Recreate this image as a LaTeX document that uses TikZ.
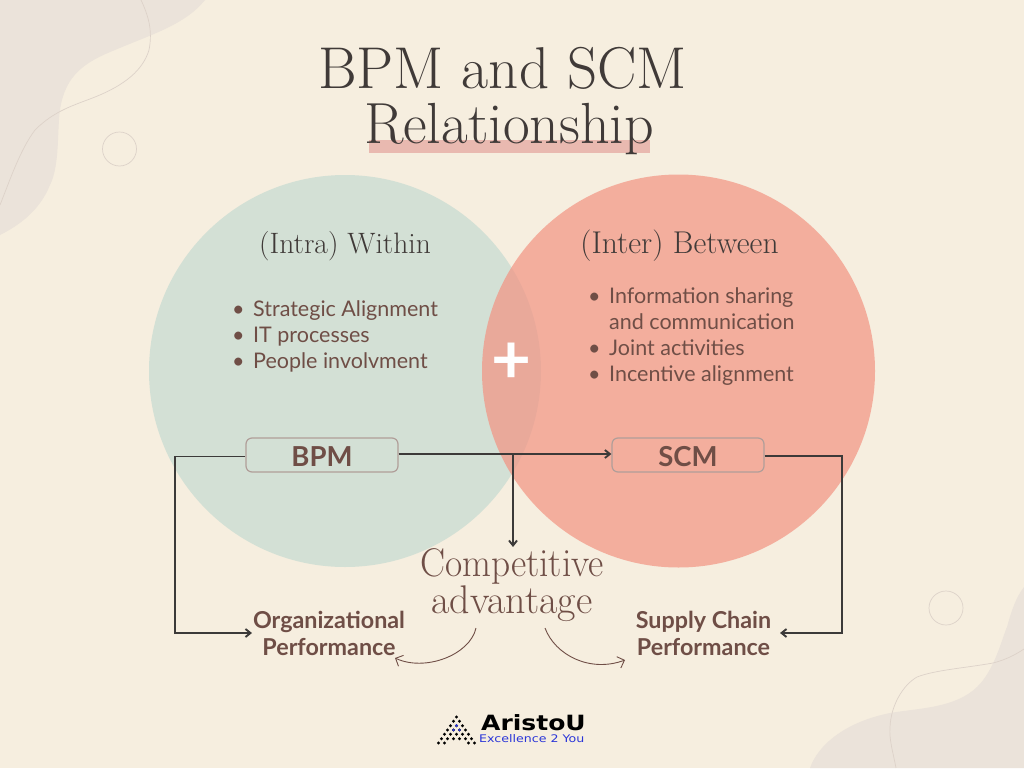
\documentclass[tikz,border=0pt]{standalone}
\usepackage{fontspec}
\setsansfont{Lato}
\newfontfamily\logofont{DejaVu Sans}
\usetikzlibrary{arrows.meta}

\definecolor{paper}{HTML}{F6EEDF}
\definecolor{blobc}{HTML}{EBE3DA}
\definecolor{linec}{HTML}{DDD2C9}
\definecolor{greenc}{HTML}{D3E0D5}
\definecolor{redc}{HTML}{F39382}
\definecolor{markc}{HTML}{E9B9B0}
\definecolor{brownc}{HTML}{6F4E46}
\definecolor{inkc}{HTML}{403A38}
\definecolor{wirec}{HTML}{3C3A39}
\definecolor{bluec}{HTML}{2A35D8}

\newcommand{\listline}[2]{\makebox[21pt][l]{#1}#2}

\tikzset{
  titletext/.style = { text = inkc, inner sep = 0pt, font = \fontsize{#1}{70}\selectfont },
  headtext/.style = { text = inkc, font = \fontsize{#1}{36}\selectfont },
  bodylist/.style = { text = brownc, align = left, anchor = north west, inner sep = 0pt,
    font = \sffamily\fontsize{21.5}{26}\selectfont },
  tagbox/.style = { draw = brownc!55, line width = 1.2pt, rounded corners = 6pt, text = brownc,
    minimum width = 152pt, minimum height = 34pt, inner sep = 0pt,
    font = \sffamily\bfseries\fontsize{27.5}{30}\selectfont },
  goaltext/.style = { text = brownc, align = center, inner sep = 0pt,
    font = \sffamily\bfseries\fontsize{23.3}{27}\selectfont },
  wire/.style = { draw = wirec, line width = 1.9pt, -{Straight Barb[length=5pt,width=8pt]} },
  bendwire/.style = { draw = brownc, line width = .9pt, -{Straight Barb[length=6pt,width=12pt]} },
  hairline/.style = { draw = linec, line width = .7pt }
}

\begin{document}
\begin{tikzpicture}[x = 1pt, y = -1pt]
    \useasboundingbox (0,0) rectangle (1024,768);
    \fill [paper] (0,0) rectangle (1024,768);

    % corner shapes
    \fill [blobc] (0,0) -- (205,0) .. controls (185,25) and (150,35) .. (115,50)
      .. controls (85,62) and (65,75) .. (60,110) .. controls (57,130) and (60,165) .. (50,185)
      .. controls (40,210) and (20,225) .. (0,235) -- cycle;
    \draw [hairline] (141,0) .. controls (148,15) and (153,30) .. (149,50)
      .. controls (143,70) and (125,85) .. (95,97) .. controls (75,105) and (55,110) .. (35,130)
      .. controls (20,150) and (10,180) .. (0,205);
    \draw [hairline] (119.5,149) circle (17);
    \fill [blobc] (1024,768) -- (810,768) .. controls (818,745) and (845,722) .. (890,713)
      .. controls (920,708) and (955,708) .. (977,687) .. controls (995,670) and (1003,635) .. (1007,627)
      .. controls (1011,612) and (1016,597) .. (1024,587) -- cycle;
    \draw [hairline] (896,768) .. controls (893,752) and (889,740) .. (890,727)
      .. controls (891,705) and (903,685) .. (917,677) .. controls (935,670) and (965,668) .. (993,663)
      .. controls (1005,660) and (1015,655) .. (1024,649);
    \draw [hairline] (946,608) circle (17);

    % title
    \fill [markc] (369,140) rectangle (650,153);
    \node [titletext = 59] (title1) at (502.5,68) {BPM and SCM};
    \node [titletext = 58] (title2) at (509,129) {Relationship};

    % the two circles
    \fill [greenc] (345,371) circle (196);
    \fill [redc, fill opacity = .7] (678.5,371) circle (196.5);
    \node [text = white, font = \sffamily\bfseries\fontsize{69}{72}\selectfont, inner sep = 0pt] (plus) at (511.5,363) {+};

    \node [headtext = 29.5] (intra) at (345,246) { (Intra) Within };
    \node [headtext = 31.5] (inter) at (679.5,246) { (Inter) Between };

    \node [bodylist] (intralist) at (232,300) {
      \listline{\textbullet}{Strategic Alignment}\\
      \listline{\textbullet}{IT processes}\\
      \listline{\textbullet}{People involvment} };
    \node [bodylist] (interlist) at (588,287) {
      \listline{\textbullet}{Information sharing}\\
      \listline{}{and communication}\\
      \listline{\textbullet}{Joint activities}\\
      \listline{\textbullet}{Incentive alignment} };

    \node [tagbox] (bpm) at (322,455) { \raisebox{-11.5pt}[0pt][0pt]{BPM} };
    \node [tagbox] (scm) at (688,455) { \raisebox{-11.5pt}[0pt][0pt]{SCM} };

    \node [text = brownc, align = center, inner sep = 0pt, font = \fontsize{40}{37}\selectfont] (adv) at (512,585) { \scalebox{.935}[1]{Competitive} \\ advantage };
    \node [goaltext] (org) at (329,633.5) { Organizational \\ Performance };
    \node [goaltext] (sup) at (703.5,633.5) { Supply Chain \\ Performance };

    % connectors
    \coordinate (split) at (513,454);
    \coordinate (leftend) at (252,633);
    \coordinate (rightend) at (780,633);
    \coordinate (bendA) at (476,628);
    \coordinate (bendB) at (395,658);
    \coordinate (bendC) at (545,628);
    \coordinate (bendD) at (625,660);
    \draw [wire] ([yshift=-1.5pt]bpm.west) -- (175,456.5) -- (175,633) -- (leftend);
    \draw [wire] ([yshift=-1pt]scm.east) -- (842,456) -- (842,633) -- (rightend);
    \draw [wire] ([yshift=1pt]bpm.east) -- ([yshift=1pt]scm.west);
    \draw [wire] (split) -- (split |- 0,547);
    \draw [bendwire] (bendA) .. controls (470,655) and (425,672) .. (bendB);
    \draw [bendwire] (bendC) .. controls (555,655) and (590,673) .. (bendD);

    % logo
    \foreach \r in {0,...,5} {
      \foreach \c in {0,...,\r} {
        \fill [black] (456.5-3*\r+6*\c,717+4.33*\r) circle (1.6);
      }
    }
    \foreach \c in {0,1,5,6} { \fill [black] (438.5+6*\c,743) circle (1.6); }
    \foreach \px/\py in {456.5/725.6, 453.5/730, 459.5/730} { \fill [bluec] (\px,\py) circle (1.4); }
    \node [anchor = west, inner sep = 0pt, text = black, font = \logofont\bfseries\fontsize{21}{24}\selectfont] (brand) at (481,723) { \scalebox{1.19}[1]{AristoU} };
    \node [anchor = west, inner sep = 0pt, text = bluec, font = \logofont\fontsize{10.5}{11}\selectfont] (slogan) at (479,739) { \scalebox{1.2}[1]{Excellence 2 You} };
\end{tikzpicture}
\end{document}
